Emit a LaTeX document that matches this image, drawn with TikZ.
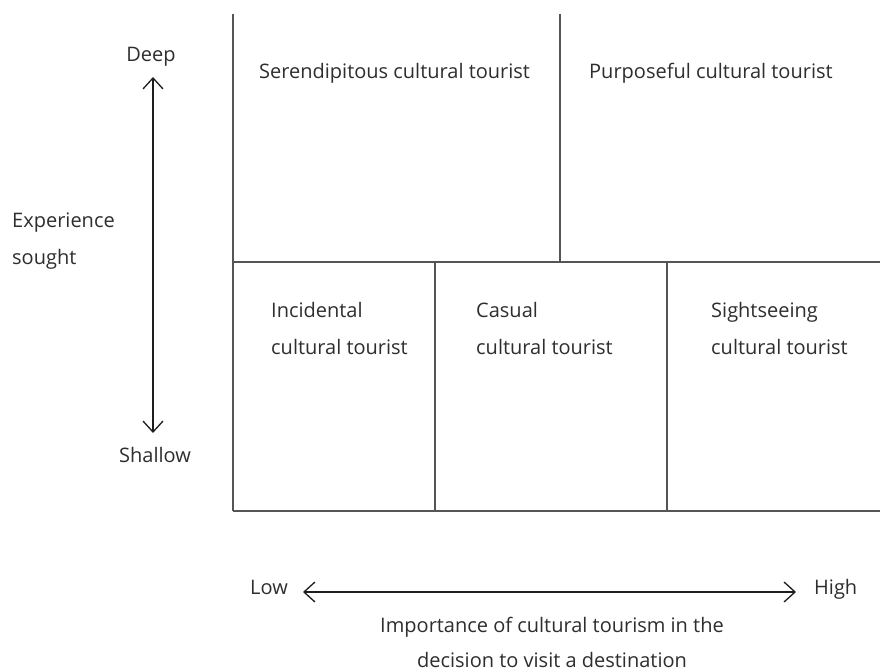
\documentclass[tikz,border=0pt]{standalone}
\usepackage{fontspec}
\setmainfont{Open Sans}
\usetikzlibrary{arrows.meta}
\definecolor{txt}{HTML}{2E2E2E}
\definecolor{grid}{HTML}{555555}
\definecolor{arr}{HTML}{1E1E1E}
\tikzset{
  lbl/.style={anchor=base west, inner sep=0pt, text=txt, font=\fontsize{20}{37}\selectfont},
  clbl/.style={anchor=base, inner sep=0pt, text=txt, font=\fontsize{20}{37}\selectfont},
  gridline/.style={draw=grid, line width=1.1pt},
  barb/.style={draw=arr, line width=1.3pt, {Straight Barb[length=11pt,width=20pt]}-{Straight Barb[length=11pt,width=20pt]}}
}
\begin{document}
\begin{tikzpicture}[x=1pt,y=-1pt]
\useasboundingbox[fill=white] (0,0) rectangle (880,671);
% grid coordinates
\coordinate (tl) at (233,14);
\coordinate (bl) at (233,511);
\coordinate (tm) at (560,14);
\coordinate (ml) at (233,262);
\coordinate (mm) at (560,262);
\coordinate (mr) at (880,262);
\coordinate (br) at (880,511);
\coordinate (d1t) at (435,262);
\coordinate (d1b) at (435,511);
\coordinate (d2t) at (667,262);
\coordinate (d2b) at (667,511);
\draw[gridline] (tl) -- (bl);
\draw[gridline] (tm) -- (mm);
\draw[gridline] (ml) -- (mr);
\draw[gridline] (bl) -- (br);
\draw[gridline] (d1t) -- (d1b);
\draw[gridline] (d2t) -- (d2b);
% cell labels
\node[lbl] (ser) at (259,79) {Serendipitous cultural tourist};
\node[lbl] (pur) at (589,79) {Purposeful cultural tourist};
\node[lbl] (inc1) at (271,317) {Incidental};
\node[lbl] (inc2) at (271,354) {cultural tourist};
\node[lbl] (cas1) at (476,317) {Casual};
\node[lbl] (cas2) at (476,354) {cultural tourist};
\node[lbl] (sig1) at (711,317) {Sightseeing};
\node[lbl] (sig2) at (711,354) {cultural tourist};
% vertical axis
\node[clbl] (deep) at (151,62) {Deep};
\node[clbl] (shallow) at (155,462) {Shallow};
\node[lbl] (exp1) at (12,227) {Experience};
\node[lbl] (exp2) at (12,264) {sought};
\coordinate (vtop) at (153,77);
\coordinate (vbot) at (153,433);
\draw[barb] (vtop) -- (vbot);
% horizontal axis
\node[lbl] (low) at (250,594) {Low};
\node[lbl] (high) at (814,594) {High};
\coordinate (hl) at (303,592);
\coordinate (hr) at (796,592);
\draw[barb] (hl) -- (hr);
\node[clbl] (cap1) at (552,632) {Importance of cultural tourism in the};
\node[clbl] (cap2) at (552,667) {decision to visit a destination};
\end{tikzpicture}
\end{document}
